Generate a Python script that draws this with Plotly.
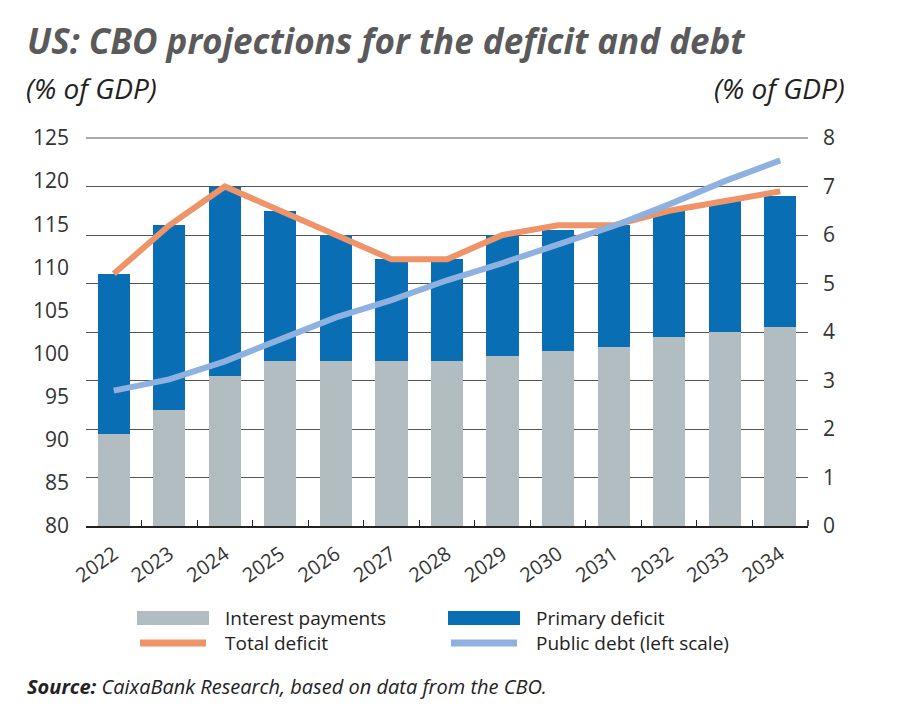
import plotly.graph_objects as go

years = ["2022", "2023", "2024", "2025", "2026", "2027", "2028",
         "2029", "2030", "2031", "2032", "2033", "2034"]
interest_payments = [1.9, 2.4, 3.1, 3.4, 3.4, 3.4, 3.4, 3.5, 3.6, 3.7, 3.9, 4.0, 4.1]
primary_deficit = [3.3, 3.8, 3.9, 3.1, 2.6, 2.1, 2.1, 2.5, 2.5, 2.5, 2.6, 2.7, 2.7]
total_deficit = [5.2, 6.2, 7.0, 6.5, 6.0, 5.5, 5.5, 6.0, 6.2, 6.2, 6.5, 6.7, 6.9]
public_debt = [95.7, 97.0, 99.1, 101.7, 104.2, 106.2, 108.5, 110.5, 112.7, 114.8, 117.3, 120.0, 122.4]

left_ticks = [80, 85, 90, 95, 100, 105, 110, 115, 120, 125]
right_ticks = [0, 1, 2, 3, 4, 5, 6, 7, 8]

C_GRAY = "#B2BDC1"
C_BLUE = "#0A6EB4"
C_ORANGE = "#EE9468"
C_LBLUE = "#8FB1DF"
FONT = "Open Sans, Lato, sans-serif"

# page body has an 8px margin; work in reference-pixel coordinates and shift
OFF = 8
W, H = 884, 712
L, R, T, B = 86 - OFF, 808 - OFF, 138 - OFF, 526 - OFF


def px(x):
    return (x - OFF - L) / (R - L)


def py(y):
    return (B - (y - OFF)) / (B - T)


fig = go.Figure()
fig.add_trace(go.Bar(x=years, y=interest_payments, name="Interest payments",
                     marker=dict(color=C_GRAY, line=dict(width=0)), yaxis="y", width=0.58))
fig.add_trace(go.Bar(x=years, y=primary_deficit, name="Primary deficit",
                     marker=dict(color=C_BLUE, line=dict(width=0)), yaxis="y", width=0.58))
fig.add_trace(go.Scatter(x=years, y=total_deficit, name="Total deficit", mode="lines",
                         line=dict(color=C_ORANGE, width=6), yaxis="y"))
fig.add_trace(go.Scatter(x=years, y=public_debt, name="Public debt (left scale)", mode="lines",
                         line=dict(color=C_LBLUE, width=6), yaxis="y2"))

fig.update_layout(
    width=W, height=H,
    margin=dict(l=L, r=W - R, t=T, b=H - B),
    paper_bgcolor="white", plot_bgcolor="white",
    barmode="stack",
    showlegend=False,
    font=dict(family=FONT, color="#333333"),
    xaxis=dict(
        type="category", tickangle=-35, tickfont=dict(size=20, color="#333333"),
        showline=True, linecolor="#222222", linewidth=1.5,
        ticks="inside", tickson="boundaries", ticklen=6, tickcolor="#222222",
        showgrid=False, range=[-0.5, 12.5], mirror=False, ticklabelstandoff=7,
    ),
    yaxis=dict(
        side="right", range=[0, 8], tickvals=right_ticks,
        tickfont=dict(size=21, color="#333333"),
        showgrid=True, gridcolor="#555555", gridwidth=1,
        zeroline=False, showline=False, ticks="", ticklabelstandoff=14,
    ),
    yaxis2=dict(
        side="left", overlaying="y", range=[80, 125], tickvals=left_ticks,
        tickfont=dict(size=21, color="#333333"),
        showgrid=False, zeroline=False, showline=False, ticks="", ticklabelstandoff=16,
    ),
)

# top gridline (at 8 / 125) and right end tick on the x axis line
fig.add_shape(type="line", xref="paper", yref="paper", x0=0, x1=1, y0=1, y1=1,
              line=dict(color="#555555", width=1), layer="below")
fig.add_shape(type="line", xref="paper", yref="paper", x0=1, x1=1, y0=0, y1=py(526 - 6),
              line=dict(color="#222222", width=1.5))

ann = []
ann.append(dict(text="<b><i>US: CBO projections for the deficit and debt</i></b>",
                x=px(25), y=py(40), xanchor="left", yanchor="middle",
                font=dict(size=35, color="#5A5A5A", family=FONT)))
ann.append(dict(text="<i>(% of GDP)</i>", x=px(24), y=py(88), xanchor="left", yanchor="middle",
                font=dict(size=28, color="#222222", family=FONT)))
ann.append(dict(text="<i>(% of GDP)</i>", x=px(847), y=py(88), xanchor="right", yanchor="middle",
                font=dict(size=28, color="#222222", family=FONT)))
ann.append(dict(text="<b><i>Source:</i></b><i> CaixaBank Research, based on data from the CBO.</i>",
                x=px(25), y=py(686), xanchor="left", yanchor="middle",
                font=dict(size=20, color="#222222", family=FONT)))

legend_items = [
    ("Interest payments", C_GRAY, "bar", 137, 618),
    ("Primary deficit", C_BLUE, "bar", 448, 618),
    ("Total deficit", C_ORANGE, "line", 137, 643),
    ("Public debt (left scale)", C_LBLUE, "line", 448, 643),
]
for name, col, kind, x0, yc in legend_items:
    if kind == "bar":
        fig.add_shape(type="rect", xref="paper", yref="paper",
                      x0=px(x0), x1=px(x0 + 72), y0=py(yc - 7), y1=py(yc + 7),
                      fillcolor=col, line=dict(width=0))
    else:
        fig.add_shape(type="line", xref="paper", yref="paper",
                      x0=px(x0 + 3), x1=px(x0 + 69), y0=py(yc), y1=py(yc),
                      line=dict(color=col, width=7))
    ann.append(dict(text=name, x=px(x0 + 86), y=py(yc), xanchor="left", yanchor="middle",
                    font=dict(size=19, color="#222222", family=FONT)))

for a in ann:
    a.update(xref="paper", yref="paper", showarrow=False)
fig.update_layout(annotations=ann)

fig.write_html("out.html")
